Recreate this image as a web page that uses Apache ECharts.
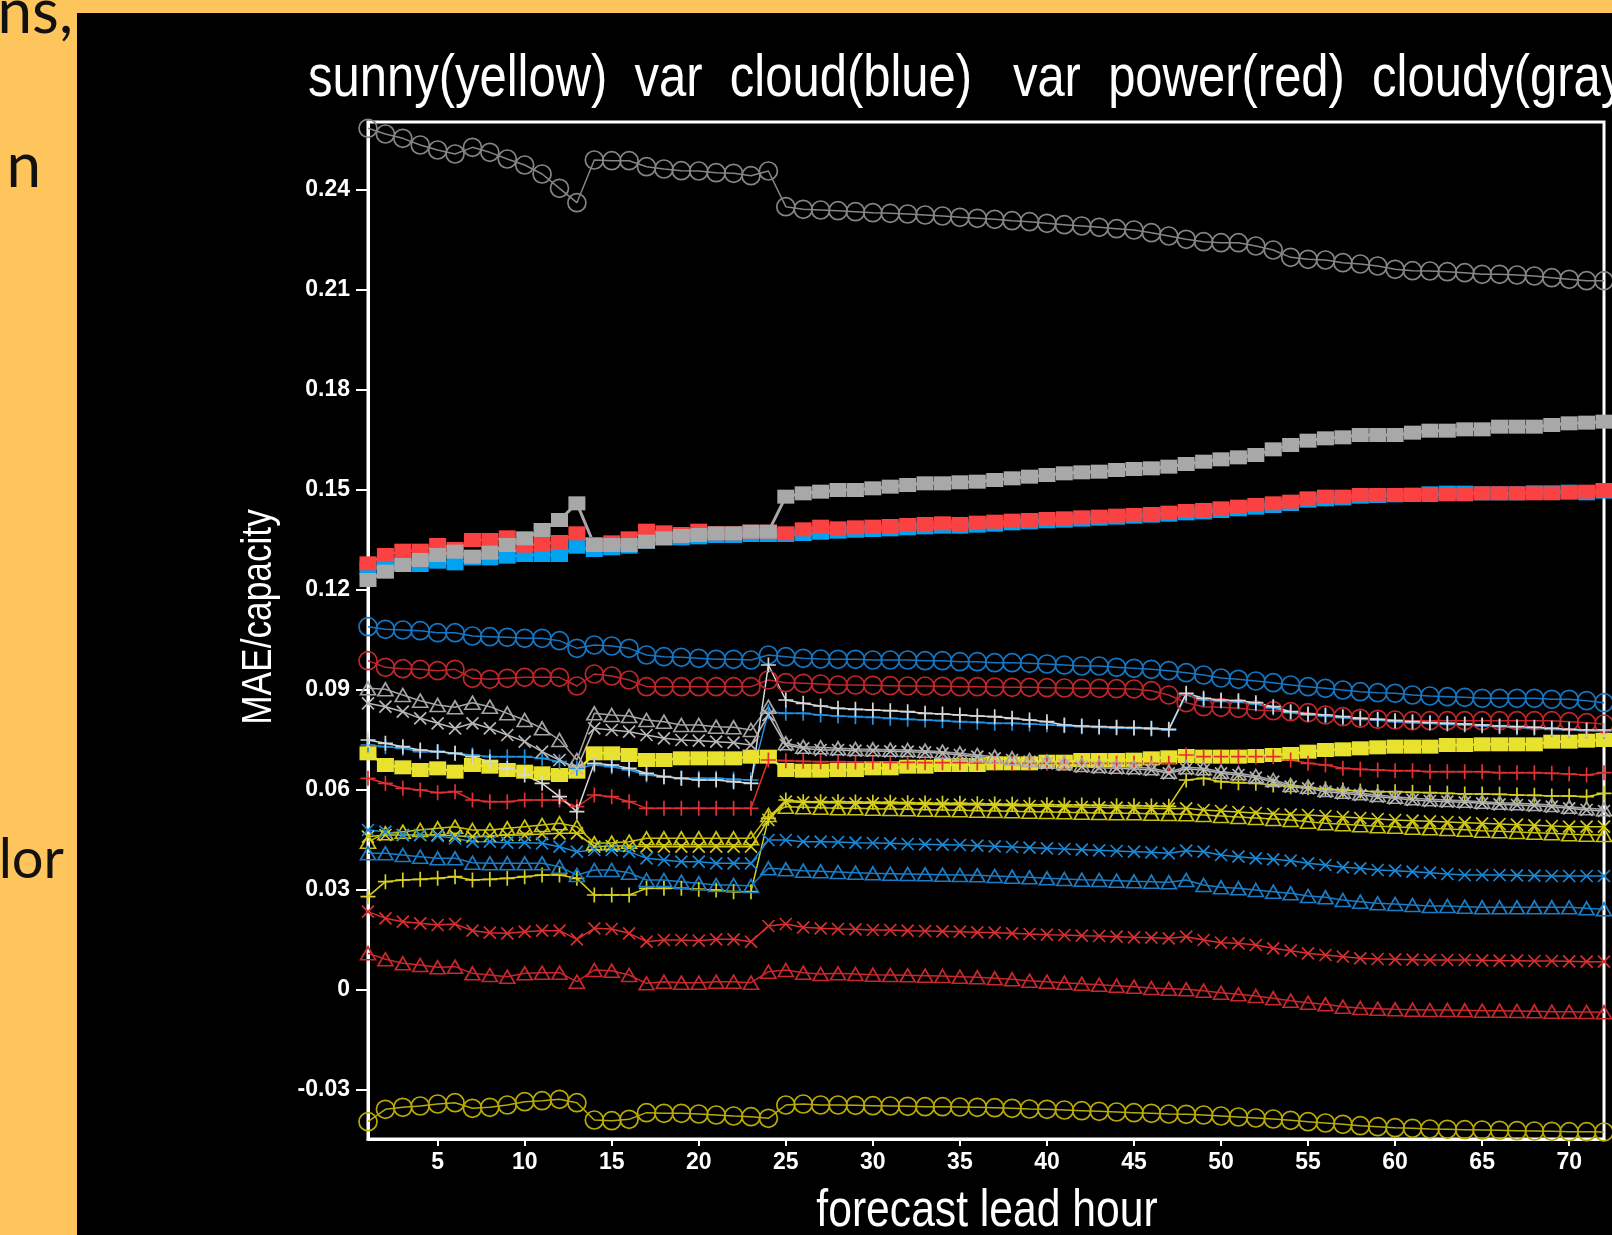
<!DOCTYPE html>
<html><head><meta charset="utf-8">
<script src="https://cdn.jsdelivr.net/npm/echarts@6/dist/echarts.min.js"></script>
<style>html,body{margin:0;padding:0;background:#FEC55C;}#c{width:1612px;height:1235px;}</style>
</head><body><div id="c"></div>
<script>
const hours = [1,2,3,4,5,6,7,8,9,10,11,12,13,14,15,16,17,18,19,20,21,22,23,24,25,26,27,28,29,30,31,32,33,34,35,36,37,38,39,40,41,42,43,44,45,46,47,48,49,50,51,52,53,54,55,56,57,58,59,60,61,62,63,64,65,66,67,68,69,70,71,72];
const xTicks = [5,10,15,20,25,30,35,40,45,50,55,60,65,70];
const xTickLabels = ['5','10','15','20','25','30','35','40','45','50','55','60','65','70'];
const yTicks = [-0.03,0,0.03,0.06,0.09,0.12,0.15,0.18,0.21,0.24];
const yTickLabels = ['-0.03','0','0.03','0.06','0.09','0.12','0.15','0.18','0.21','0.24'];
const titleText = 'sunny(yellow)  var  cloud(blue)   var  power(red)  cloudy(gray)';
const xName = 'forecast lead hour';
const yName = 'MAE/capacity';

// sunny (yellow)
const sunnyCircle = [-0.0395,-0.0358,-0.0352,-0.0348,-0.0342,-0.0338,-0.0355,-0.0352,-0.0345,-0.0335,-0.0332,-0.0328,-0.0338,-0.0390,-0.0392,-0.0388,-0.0368,-0.0370,-0.0370,-0.0372,-0.0375,-0.0378,-0.0380,-0.0385,-0.0345,-0.0342,-0.0345,
 -0.0345,-0.0346,-0.0347,-0.0348,-0.0349,-0.0350,-0.0350,-0.0351,-0.0352,-0.0353,-0.0355,-0.0357,-0.0358,-0.0360,-0.0362,-0.0364,-0.0366,-0.0368,-0.0370,-0.0372,-0.0373,
 -0.0375,-0.0378,-0.0381,-0.0384,-0.0387,-0.0391,-0.0395,-0.0399,-0.0403,-0.0407,-0.0410,-0.0413,-0.0415,-0.0417,-0.0418,-0.0419,-0.0420,-0.0421,-0.0422,-0.0423,-0.0424,-0.0425,-0.0425,-0.0426];
const sunnySquare = [0.0710,0.0675,0.0668,0.0660,0.0665,0.0655,0.0675,0.0670,0.0660,0.0655,0.0650,0.0645,0.0655,0.0710,0.0710,0.0705,0.0690,0.0690,0.0695,0.0695,0.0695,0.0695,0.0700,0.0700,0.0660,0.0658,0.0658,
 0.0660,0.0660,0.0665,0.0665,0.0670,0.0670,0.0675,0.0675,0.0675,0.0680,0.0680,0.0680,0.0685,0.0685,0.0690,0.0690,0.0690,0.0691,0.0695,0.0698,0.0702,
 0.0700,0.0700,0.0700,0.0702,0.0705,0.0708,0.0715,0.0720,0.0722,0.0725,0.0728,0.0730,0.0730,0.0730,0.0735,0.0735,0.0737,0.0737,0.0737,0.0737,0.0745,0.0745,0.0748,0.0750];
const sunnyTriangle = [0.0445,0.0470,0.0475,0.0480,0.0485,0.0490,0.0480,0.0480,0.0485,0.0490,0.0495,0.0500,0.0490,0.0440,0.0442,0.0445,0.0455,0.0455,0.0455,0.0455,0.0455,0.0455,0.0455,0.0525,0.0550,0.0548,0.0547,
 0.0545,0.0545,0.0544,0.0543,0.0542,0.0541,0.0540,0.0539,0.0538,0.0537,0.0536,0.0535,0.0534,0.0533,0.0532,0.0531,0.0530,0.0530,0.0529,0.0528,0.0527,
 0.0525,0.0522,0.0519,0.0516,0.0513,0.0510,0.0505,0.0500,0.0497,0.0494,0.0491,0.0490,0.0487,0.0485,0.0483,0.0481,0.0478,0.0476,0.0474,0.0472,0.0470,0.0467,0.0466,0.0465];
const sunnyCross = [0.0460,0.0465,0.0465,0.0465,0.0465,0.0463,0.0460,0.0462,0.0465,0.0465,0.0468,0.0470,0.0470,0.0430,0.0432,0.0432,0.0430,0.0430,0.0430,0.0430,0.0430,0.0430,0.0430,0.0510,0.0565,0.0563,0.0562,
 0.0561,0.0560,0.0560,0.0559,0.0558,0.0557,0.0556,0.0556,0.0555,0.0554,0.0553,0.0552,0.0551,0.0550,0.0549,0.0548,0.0547,0.0546,0.0545,0.0544,0.0545,
 0.0540,0.0537,0.0534,0.0531,0.0528,0.0526,0.0525,0.0522,0.0519,0.0516,0.0513,0.0510,0.0508,0.0506,0.0504,0.0502,0.0500,0.0498,0.0496,0.0494,0.0492,0.0490,0.0490,0.0490];
const sunnyPlus = [0.0280,0.0325,0.0330,0.0332,0.0335,0.0340,0.0330,0.0332,0.0335,0.0340,0.0345,0.0345,0.0335,0.0285,0.0285,0.0285,0.0305,0.0305,0.0305,0.0302,0.0300,0.0295,0.0295,0.0515,0.0570,0.0565,0.0565,
 0.0565,0.0564,0.0563,0.0563,0.0562,0.0561,0.0560,0.0560,0.0559,0.0558,0.0557,0.0556,0.0556,0.0555,0.0555,0.0554,0.0553,0.0553,0.0552,0.0551,0.0630,
 0.0635,0.0625,0.0622,0.0620,0.0615,0.0610,0.0607,0.0604,0.0600,0.0597,0.0595,0.0595,0.0593,0.0592,0.0590,0.0588,0.0588,0.0587,0.0585,0.0584,0.0582,0.0582,0.0580,0.0590];

// var cloud (blue)
const cloudCircle = [0.1090,0.1082,0.1080,0.1078,0.1072,0.1072,0.1062,0.1060,0.1058,0.1055,0.1055,0.1048,0.1025,0.1035,0.1032,0.1025,0.1005,0.1000,0.0998,0.0995,0.0992,0.0992,0.0990,0.1005,0.1000,0.0995,0.0993,
 0.0992,0.0992,0.0990,0.0990,0.0990,0.0988,0.0988,0.0985,0.0985,0.0982,0.0982,0.0980,0.0978,0.0975,0.0972,0.0972,0.0968,0.0965,0.0962,0.0958,0.0952,
 0.0945,0.0936,0.0932,0.0927,0.0922,0.0915,0.0910,0.0905,0.0900,0.0895,0.0892,0.0890,0.0885,0.0882,0.0880,0.0878,0.0875,0.0875,0.0875,0.0875,0.0872,0.0872,0.0868,0.0862];
const cloudSquare = [0.1265,0.1270,0.1280,0.1275,0.1285,0.1280,0.1295,0.1295,0.1300,0.1305,0.1305,0.1305,0.1330,0.1320,0.1325,0.1330,0.1345,0.1355,0.1355,0.1358,0.1362,0.1362,0.1365,0.1365,0.1365,0.1368,0.1372,
 0.1375,0.1378,0.1380,0.1382,0.1385,0.1388,0.1390,0.1390,0.1393,0.1396,0.1400,0.1403,0.1406,0.1408,0.1411,0.1414,0.1417,0.1420,0.1423,0.1426,0.1430,
 0.1433,0.1437,0.1442,0.1447,0.1452,0.1458,0.1468,0.1472,0.1475,0.1480,0.1482,0.1484,0.1486,0.1490,0.1492,0.1492,0.1490,0.1490,0.1490,0.1493,0.1493,0.1495,0.1490,0.1495];
const cloudTriangle = [0.0410,0.0410,0.0405,0.0400,0.0395,0.0395,0.0382,0.0380,0.0380,0.0380,0.0380,0.0370,0.0345,0.0360,0.0360,0.0352,0.0330,0.0330,0.0325,0.0320,0.0315,0.0315,0.0312,0.0365,0.0362,0.0358,0.0356,
 0.0354,0.0352,0.0350,0.0349,0.0348,0.0347,0.0346,0.0345,0.0344,0.0342,0.0340,0.0338,0.0335,0.0333,0.0331,0.0330,0.0328,0.0326,0.0325,0.0323,0.0330,
 0.0315,0.0308,0.0305,0.0300,0.0295,0.0290,0.0282,0.0278,0.0270,0.0265,0.0260,0.0258,0.0255,0.0252,0.0252,0.0250,0.0248,0.0248,0.0248,0.0248,0.0248,0.0248,0.0245,0.0242];
const cloudCross = [0.0480,0.0475,0.0465,0.0465,0.0462,0.0455,0.0445,0.0445,0.0442,0.0442,0.0440,0.0430,0.0415,0.0420,0.0420,0.0415,0.0395,0.0390,0.0385,0.0385,0.0380,0.0380,0.0380,0.0450,0.0450,0.0445,0.0445,
 0.0444,0.0442,0.0441,0.0440,0.0438,0.0437,0.0436,0.0435,0.0433,0.0431,0.0429,0.0427,0.0425,0.0423,0.0421,0.0419,0.0417,0.0415,0.0413,0.0410,0.0418,
 0.0415,0.0405,0.0400,0.0395,0.0392,0.0388,0.0380,0.0375,0.0368,0.0365,0.0360,0.0358,0.0355,0.0352,0.0348,0.0345,0.0345,0.0345,0.0344,0.0343,0.0342,0.0342,0.0342,0.0342];
const cloudPlus = [0.0735,0.0730,0.0725,0.0715,0.0715,0.0710,0.0705,0.0700,0.0700,0.0700,0.0695,0.0685,0.0665,0.0675,0.0670,0.0660,0.0645,0.0640,0.0635,0.0635,0.0635,0.0632,0.0630,0.0835,0.0830,0.0830,0.0825,
 0.0822,0.0820,0.0818,0.0815,0.0812,0.0810,0.0808,0.0805,0.0803,0.0800,0.0800,0.0798,0.0796,0.0793,0.0790,0.0788,0.0786,0.0785,0.0783,0.0780,0.0885,
 0.0870,0.0866,0.0864,0.0858,0.0846,0.0832,0.0825,0.0822,0.0817,0.0812,0.0810,0.0805,0.0802,0.0800,0.0797,0.0795,0.0792,0.0790,0.0787,0.0785,0.0782,0.0780,0.0778,0.0776];

// var power (red)
const powerCircle = [0.0988,0.0968,0.0964,0.0962,0.0958,0.0962,0.0935,0.0932,0.0935,0.0938,0.0938,0.0938,0.0912,0.0948,0.0942,0.0930,0.0910,0.0910,0.0910,0.0910,0.0910,0.0910,0.0910,0.0930,0.0922,0.0920,0.0918,
 0.0915,0.0915,0.0914,0.0913,0.0912,0.0912,0.0911,0.0910,0.0910,0.0909,0.0908,0.0908,0.0907,0.0906,0.0905,0.0905,0.0904,0.0903,0.0898,0.0885,0.0862,
 0.0850,0.0848,0.0845,0.0840,0.0838,0.0835,0.0832,0.0825,0.0820,0.0815,0.0812,0.0810,0.0808,0.0808,0.0808,0.0808,0.0808,0.0808,0.0808,0.0808,0.0808,0.0805,0.0802,0.0798];
const powerSquare = [0.1280,0.1305,0.1318,0.1318,0.1335,0.1323,0.1350,0.1350,0.1358,0.1333,0.1338,0.1344,0.1370,0.1338,0.1343,0.1355,0.1378,0.1373,0.1368,0.1378,0.1370,0.1370,0.1375,0.1375,0.1370,0.1382,0.1390,
 0.1385,0.1388,0.1390,0.1392,0.1395,0.1398,0.1400,0.1398,0.1402,0.1405,0.1408,0.1410,0.1413,0.1415,0.1418,0.1420,0.1423,0.1425,0.1428,0.1432,0.1437,
 0.1440,0.1445,0.1450,0.1455,0.1460,0.1465,0.1475,0.1480,0.1480,0.1485,0.1485,0.1485,0.1485,0.1485,0.1487,0.1487,0.1490,0.1490,0.1490,0.1490,0.1490,0.1492,0.1495,0.1500];
const powerTriangle = [0.0110,0.0092,0.0080,0.0075,0.0068,0.0070,0.0050,0.0045,0.0040,0.0050,0.0052,0.0052,0.0025,0.0060,0.0058,0.0045,0.0020,0.0025,0.0022,0.0022,0.0025,0.0025,0.0022,0.0055,0.0060,0.0052,0.0048,
 0.0050,0.0048,0.0046,0.0045,0.0044,0.0043,0.0042,0.0040,0.0038,0.0035,0.0032,0.0028,0.0025,0.0022,0.0019,0.0016,0.0013,0.0010,0.0006,0.0004,0.0002,
 -0.0002,-0.0008,-0.0013,-0.0018,-0.0025,-0.0032,-0.0038,-0.0043,-0.0050,-0.0054,-0.0056,-0.0058,-0.0059,-0.0060,-0.0060,-0.0061,-0.0062,-0.0062,-0.0063,-0.0064,-0.0065,-0.0065,-0.0066,-0.0067];
const powerCross = [0.0235,0.0215,0.0205,0.0200,0.0195,0.0198,0.0178,0.0172,0.0170,0.0175,0.0178,0.0178,0.0152,0.0185,0.0183,0.0170,0.0145,0.0150,0.0150,0.0148,0.0152,0.0152,0.0145,0.0192,0.0198,0.0188,0.0185,
 0.0183,0.0182,0.0180,0.0180,0.0178,0.0177,0.0176,0.0175,0.0173,0.0172,0.0170,0.0168,0.0166,0.0165,0.0163,0.0162,0.0160,0.0158,0.0157,0.0155,0.0160,
 0.0150,0.0142,0.0140,0.0135,0.0125,0.0118,0.0110,0.0105,0.0100,0.0095,0.0093,0.0092,0.0091,0.0090,0.0090,0.0090,0.0089,0.0088,0.0088,0.0087,0.0087,0.0086,0.0085,0.0085];
const powerPlus = [0.0635,0.0620,0.0605,0.0600,0.0592,0.0595,0.0570,0.0565,0.0565,0.0570,0.0570,0.0570,0.0550,0.0585,0.0580,0.0565,0.0545,0.0545,0.0545,0.0545,0.0545,0.0545,0.0545,0.0690,0.0688,0.0686,0.0685,
 0.0685,0.0684,0.0684,0.0683,0.0683,0.0682,0.0682,0.0682,0.0681,0.0681,0.0680,0.0680,0.0680,0.0680,0.0680,0.0680,0.0680,0.0680,0.0680,0.0680,0.0705,
 0.0700,0.0700,0.0700,0.0700,0.0700,0.0690,0.0680,0.0675,0.0665,0.0662,0.0660,0.0658,0.0658,0.0655,0.0655,0.0655,0.0655,0.0652,0.0652,0.0652,0.0650,0.0648,0.0645,0.0652];

// cloudy (gray)
const cloudyCircle = [0.2585,0.2568,0.2555,0.2535,0.2520,0.2508,0.2528,0.2513,0.2493,0.2475,0.2448,0.2405,0.2362,0.2490,0.2488,0.2488,0.2470,0.2463,0.2458,0.2457,0.2452,0.2450,0.2443,0.2457,0.2350,0.2342,0.2340,
 0.2338,0.2335,0.2332,0.2330,0.2328,0.2325,0.2322,0.2318,0.2315,0.2312,0.2308,0.2305,0.2300,0.2296,0.2292,0.2288,0.2284,0.2280,0.2272,0.2262,0.2252,
 0.2245,0.2242,0.2242,0.2232,0.2220,0.2198,0.2192,0.2190,0.2182,0.2178,0.2172,0.2162,0.2158,0.2157,0.2155,0.2152,0.2147,0.2147,0.2145,0.2142,0.2137,0.2132,0.2128,0.2128];
const cloudySquare = [0.1230,0.1255,0.1275,0.1290,0.1305,0.1315,0.1300,0.1312,0.1335,0.1355,0.1380,0.1410,0.1460,0.1335,0.1335,0.1335,0.1345,0.1355,0.1362,0.1365,0.1370,0.1370,0.1375,0.1375,0.1480,0.1490,0.1495,
 0.1500,0.1500,0.1505,0.1510,0.1515,0.1520,0.1520,0.1523,0.1525,0.1530,0.1535,0.1540,0.1545,0.1550,0.1553,0.1555,0.1560,0.1563,0.1565,0.1570,0.1578,
 0.1585,0.1592,0.1598,0.1605,0.1622,0.1635,0.1648,0.1655,0.1658,0.1665,0.1665,0.1665,0.1672,0.1678,0.1678,0.1682,0.1682,0.1690,0.1690,0.1690,0.1695,0.1700,0.1702,0.1705];
const cloudyTriangle = [0.0905,0.0902,0.0885,0.0868,0.0855,0.0848,0.0862,0.0850,0.0830,0.0810,0.0785,0.0750,0.0690,0.0830,0.0825,0.0822,0.0810,0.0805,0.0795,0.0795,0.0790,0.0788,0.0780,0.0850,0.0740,0.0730,0.0728,
 0.0725,0.0723,0.0722,0.0721,0.0720,0.0718,0.0715,0.0710,0.0705,0.0700,0.0695,0.0690,0.0685,0.0680,0.0675,0.0672,0.0670,0.0668,0.0665,0.0655,0.0668,
 0.0665,0.0655,0.0650,0.0642,0.0630,0.0615,0.0610,0.0600,0.0595,0.0590,0.0585,0.0580,0.0575,0.0572,0.0570,0.0568,0.0565,0.0562,0.0560,0.0558,0.0555,0.0550,0.0545,0.0542];
const cloudyCross = [0.0860,0.0850,0.0835,0.0815,0.0800,0.0785,0.0800,0.0785,0.0765,0.0745,0.0715,0.0690,0.0665,0.0785,0.0780,0.0775,0.0765,0.0755,0.0750,0.0748,0.0745,0.0742,0.0735,0.0825,0.0735,0.0725,0.0720,
 0.0720,0.0718,0.0717,0.0716,0.0715,0.0713,0.0710,0.0705,0.0700,0.0695,0.0690,0.0685,0.0680,0.0675,0.0670,0.0667,0.0665,0.0663,0.0660,0.0650,0.0663,
 0.0660,0.0650,0.0645,0.0637,0.0625,0.0610,0.0605,0.0595,0.0590,0.0585,0.0580,0.0575,0.0570,0.0567,0.0565,0.0563,0.0560,0.0557,0.0555,0.0553,0.0550,0.0545,0.0540,0.0537];
const cloudyPlus = [0.0750,0.0740,0.0730,0.0720,0.0715,0.0710,0.0700,0.0685,0.0665,0.0645,0.0620,0.0580,0.0535,0.0680,0.0675,0.0665,0.0650,0.0640,0.0635,0.0630,0.0630,0.0625,0.0620,0.0975,0.0870,0.0860,0.0852,
 0.0845,0.0842,0.0840,0.0838,0.0835,0.0830,0.0828,0.0825,0.0822,0.0820,0.0815,0.0810,0.0805,0.0795,0.0792,0.0790,0.0788,0.0787,0.0785,0.0782,0.0890,
 0.0875,0.0870,0.0868,0.0862,0.0850,0.0835,0.0828,0.0825,0.0820,0.0815,0.0812,0.0808,0.0805,0.0802,0.0800,0.0798,0.0795,0.0792,0.0790,0.0788,0.0785,0.0782,0.0780,0.0780];

const SYM = {
  circle: 'circle',
  square: 'rect',
  triangle: 'triangle',
  cross: 'path://M0,0L10,10M10,0L0,10',
  plus: 'path://M5,0L5,10M0,5L10,5'
};
const SIZE = { circle: 18, square: [17, 14], triangle: [15, 13], cross: 12, plus: 15 };

function mk(name, values, kind, color, lineWidth) {
  const filled = kind === 'square';
  return {
    name: name,
    type: 'line',
    data: hours.map((h, i) => [h, values[i]]),
    symbol: SYM[kind],
    symbolSize: SIZE[kind],
    showAllSymbol: true,
    symbolKeepAspect: false,
    animation: false,
    silent: true,
    clip: true,
    emphasis: { disabled: true },
    lineStyle: { color: color, width: lineWidth || 1.5 },
    itemStyle: filled
      ? { color: color, borderWidth: 0 }
      : { color: 'rgba(0,0,0,0)', borderColor: color, borderWidth: 1.7 }
  };
}

const series = [
  mk('sunny circle', sunnyCircle, 'circle', '#b9ab05'),
  mk('sunny square', sunnySquare, 'square', '#e8e12e', 2.5),
  mk('sunny triangle', sunnyTriangle, 'triangle', '#c9c10e'),
  mk('sunny cross', sunnyCross, 'cross', '#d3cb1c'),
  mk('sunny plus', sunnyPlus, 'plus', '#d8d020'),
  mk('var cloud circle', cloudCircle, 'circle', '#1577c4'),
  mk('var cloud square', cloudSquare, 'square', '#00a2f2', 2.5),
  mk('var cloud triangle', cloudTriangle, 'triangle', '#1a7cc4'),
  mk('var cloud cross', cloudCross, 'cross', '#1a8ad8'),
  mk('var cloud plus', cloudPlus, 'plus', '#2090e0'),
  mk('var power circle', powerCircle, 'circle', '#c0262a'),
  mk('var power square', powerSquare, 'square', '#fa4242', 2.5),
  mk('var power triangle', powerTriangle, 'triangle', '#c8282c'),
  mk('var power cross', powerCross, 'cross', '#d83030'),
  mk('var power plus', powerPlus, 'plus', '#e03030'),
  mk('cloudy circle', cloudyCircle, 'circle', '#858585'),
  mk('cloudy square', cloudySquare, 'square', '#a8a8a8', 3),
  mk('cloudy triangle', cloudyTriangle, 'triangle', '#a4a4a4'),
  mk('cloudy cross', cloudyCross, 'cross', '#b8b8b8'),
  mk('cloudy plus', cloudyPlus, 'plus', '#d8d8d8')
];

const tickFont = '"Liberation Sans", Arial, sans-serif';
const textFont = '"Liberation Sans", Arial, sans-serif';
const slideFont = 'Lato, "Open Sans", sans-serif';

const chart = echarts.init(document.getElementById('c'), null, { renderer: 'canvas' });
chart.setOption({
  backgroundColor: '#FEC55C',
  animation: false,
  grid: { left: 368, top: 122, right: 8, bottom: 96, show: true, borderColor: '#ffffff', borderWidth: 3, backgroundColor: '#000000', outerBoundsMode: 'none', containLabel: false },
  xAxis: {
    type: 'value', min: 1, max: 72,
    axisLine: { show: true, onZero: false, lineStyle: { color: '#ffffff', width: 3 } },
    axisTick: { show: true, inside: false, length: 7, customValues: xTicks, lineStyle: { color: '#ffffff', width: 2 } },
    axisLabel: { show: true, customValues: xTicks, margin: 12, color: '#ffffff', fontSize: 23, fontWeight: 'bold', fontFamily: tickFont,
      formatter: v => { const i = xTicks.indexOf(Math.round(v)); return i >= 0 ? xTickLabels[i] : ''; } },
    splitLine: { show: false }
  },
  yAxis: {
    type: 'value', min: -0.0447, max: 0.2604,
    axisLine: { show: true, onZero: false, lineStyle: { color: '#ffffff', width: 3 } },
    axisTick: { show: true, inside: false, length: 12, customValues: yTicks, lineStyle: { color: '#ffffff', width: 2 } },
    axisLabel: { show: true, customValues: yTicks, margin: 18, color: '#ffffff', fontSize: 23, fontWeight: 'bold', fontFamily: tickFont,
      formatter: v => { const i = yTicks.findIndex(t => Math.abs(t - v) < 1e-6); return i >= 0 ? yTickLabels[i] : ''; } },
    splitLine: { show: false }
  },
  graphic: [
    { type: 'rect', z: -10, silent: true, shape: { x: 77, y: 13, width: 1535, height: 1222 }, style: { fill: '#000000' } },
    { type: 'text', silent: true, x: 73, y: 13, style: { text: 'ns,', fill: '#111111', fontSize: 62, fontFamily: slideFont, align: 'right', verticalAlign: 'middle' } },
    { type: 'text', silent: true, x: 41, y: 167, style: { text: 'n', fill: '#111111', fontSize: 62, fontFamily: slideFont, align: 'right', verticalAlign: 'middle' } },
    { type: 'text', silent: true, x: 64, y: 860, style: { text: 'lor', fill: '#111111', fontSize: 56, fontFamily: slideFont, align: 'right', verticalAlign: 'middle' } },
    { type: 'text', silent: true, x: 308, y: 80, scaleX: 0.83, scaleY: 1, style: { text: titleText, fill: '#ffffff', fontSize: 59, fontFamily: textFont, align: 'left', verticalAlign: 'middle' } },
    { type: 'text', silent: true, x: 259, y: 617, rotation: Math.PI / 2, scaleX: 0.82, scaleY: 1, style: { text: yName, fill: '#ffffff', fontSize: 43, fontFamily: textFont, align: 'center', verticalAlign: 'middle' } },
    { type: 'text', silent: true, x: 987, y: 1212, scaleX: 0.82, scaleY: 1, style: { text: xName, fill: '#ffffff', fontSize: 52, fontFamily: textFont, align: 'center', verticalAlign: 'middle' } }
  ],
  series: series
});
</script>
</body></html>
